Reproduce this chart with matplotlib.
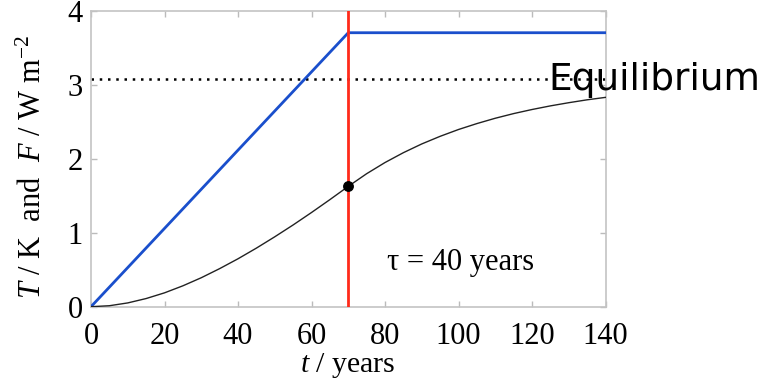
import matplotlib
matplotlib.use("Agg")
import matplotlib.pyplot as plt

plt.rcParams['font.family'] = 'Liberation Serif'
plt.rcParams['mathtext.fontset'] = 'custom'
plt.rcParams['mathtext.rm'] = 'Liberation Serif'
plt.rcParams['mathtext.it'] = 'Liberation Serif:italic'

# forcing: linear ramp to 3.7 W m-2 at year 70, then held constant
forcing_t = [0, 70, 140]
forcing_f = [0.0, 3.7, 3.7]

# temperature response (tau = 40 years)
temp_t = [0, 5, 10, 15, 20, 25, 30, 35, 40, 45, 50, 55, 60, 65, 70,
          75, 80, 85, 90, 95, 100, 105, 110, 115, 120, 125, 130, 135, 140]
temp_T = [0.0, 0.013, 0.051, 0.110, 0.187, 0.282, 0.391, 0.514, 0.647, 0.791,
          0.944, 1.104, 1.272, 1.446, 1.625, 1.796, 1.947, 2.080, 2.198, 2.301,
          2.393, 2.473, 2.545, 2.608, 2.663, 2.712, 2.755, 2.794, 2.827]

t_stop = 70
T_stop = 1.625
T_equil = 3.08

fig = plt.figure(figsize=(7.66, 3.85), dpi=100)
ax = fig.add_axes([0.1188, 0.2034, 0.6717, 0.7693])

ax.axhline(T_equil, color='black', lw=1.8, ls=(0, (1, 2.3)), zorder=2)
ax.plot(forcing_t, forcing_f, color='#1a4fcc', lw=2.0, zorder=3)
ax.plot(temp_t, temp_T, color='#222222', lw=1.0, zorder=3)
ax.axvline(t_stop, color='#ff2a1a', lw=2.0, zorder=4)
ax.plot([t_stop], [T_stop], 'o', color='black', ms=6.8, zorder=5)

ax.set_xlim(0, 140)
ax.set_ylim(0, 4)
ax.set_xticks(range(0, 141, 20))
ax.set_yticks(range(0, 5))
ax.tick_params(direction='in', length=4, width=1, color='#bbbbbb',
               labelsize=22, top=True, right=True)
ax.tick_params(axis='x', pad=11)
ax.tick_params(axis='y', pad=6)
for s in ax.spines.values():
    s.set_color('#c4c4c4')
    s.set_linewidth(1.2)

ax.set_xlabel(r'$t$ / years', fontsize=21.5, labelpad=0)
ax.set_ylabel(r'$T$ / K  and  $F$ / W m$^{-2}$', fontsize=22, labelpad=14,
              y=0.47)

ax.text(80.5, 0.6, 'τ = 40 years', fontsize=22, va='center', ha='left')
ax.text(124.4, 2.93, 'Equilibrium', fontsize=27, family='DejaVu Sans',
        va='baseline', ha='left', clip_on=False, zorder=6)

fig.savefig('out.png', dpi=100)
